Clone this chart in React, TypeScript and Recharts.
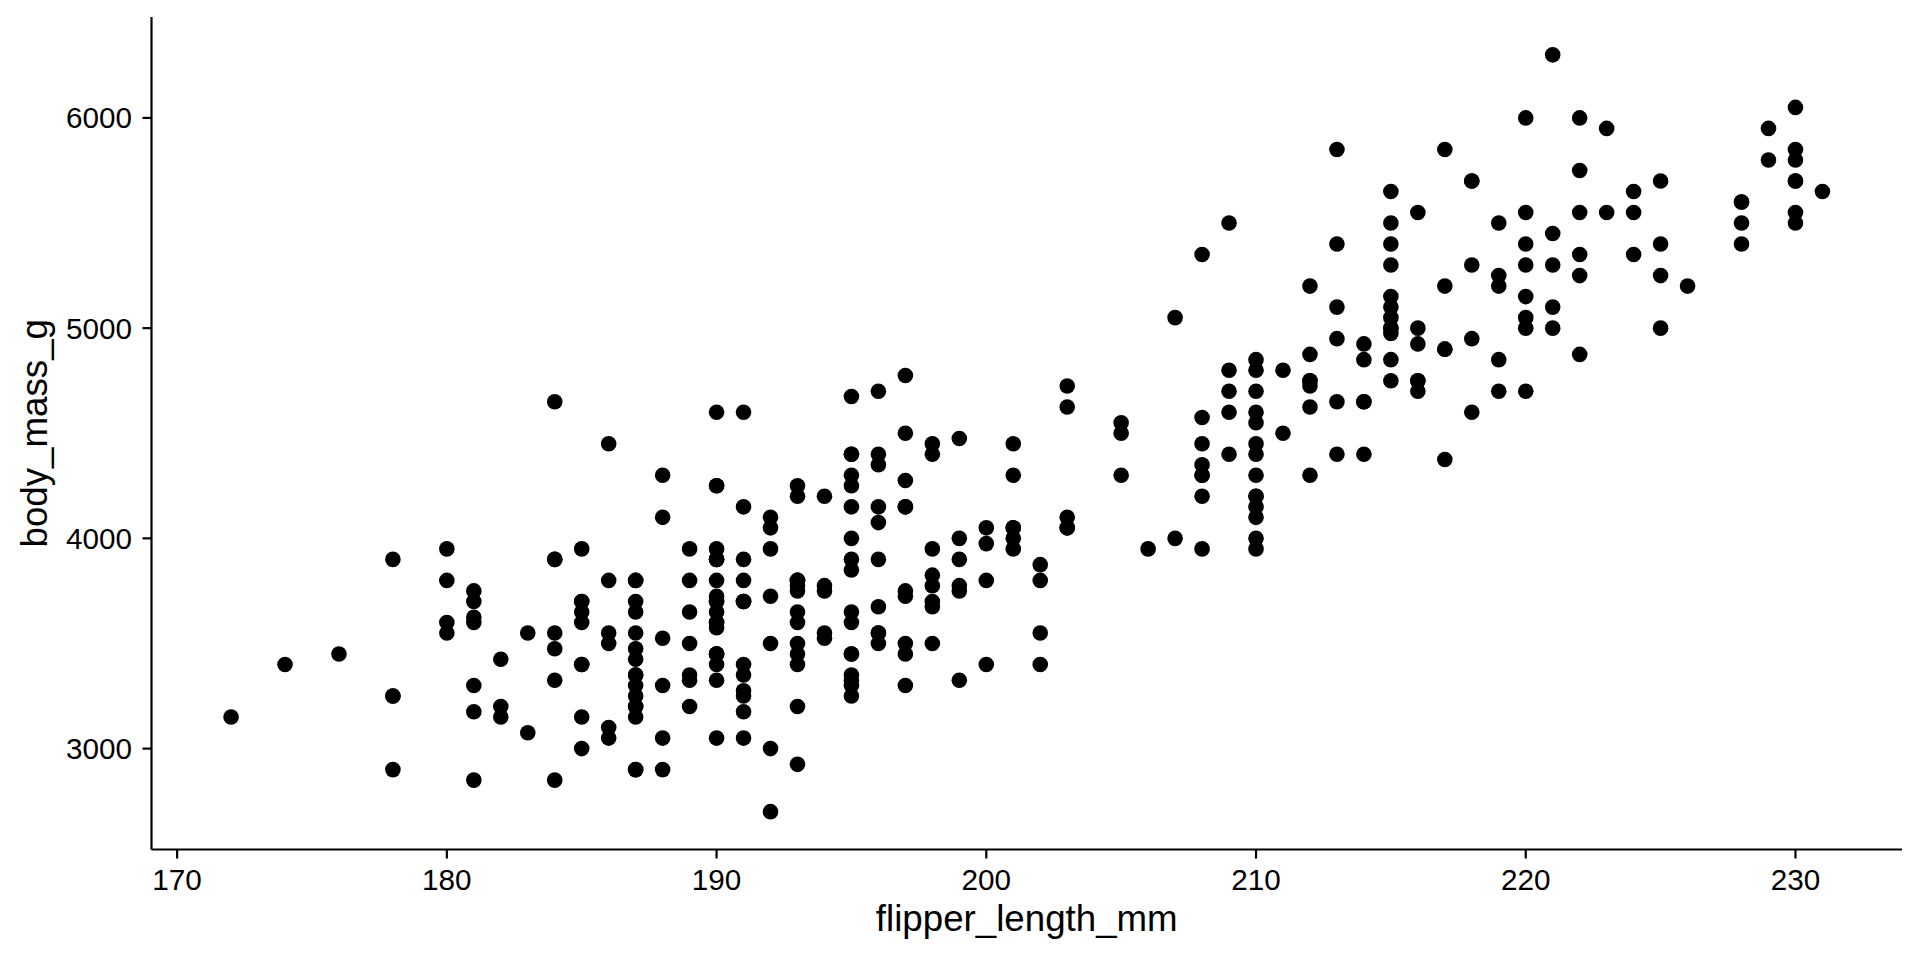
import { ScatterChart, Scatter, XAxis, YAxis, Label } from "recharts";

// palmer penguins, rows with missing sex dropped
const adelieFlipper = [
  181, 186, 195, 193, 190, 181, 195, 182, 191, 198,
  185, 195, 197, 184, 194, 174, 180, 189, 185, 180,
  187, 183, 187, 172, 180, 178, 178, 188, 184, 195,
  196, 190, 180, 181, 184, 182, 195, 186, 196, 185,
  190, 182, 190, 191, 186, 188, 190, 200, 187, 191,
  186, 193, 181, 194, 185, 195, 185, 192, 184, 192,
  195, 188, 190, 198, 190, 190, 196, 197, 190, 195,
  191, 184, 187, 195, 189, 196, 187, 193, 191, 194,
  190, 189, 189, 190, 202, 205, 185, 186, 187, 208,
  190, 196, 178, 192, 192, 203, 183, 190, 193, 184,
  199, 190, 181, 197, 198, 191, 193, 197, 191, 196,
  188, 199, 189, 189, 187, 198, 176, 202, 186, 199,
  191, 195, 191, 210, 190, 197, 193, 199, 187, 190,
  191, 200, 185, 193, 193, 187, 188, 190, 192, 185,
  190, 184, 195, 193, 187, 201,
];
const adelieMass = [
  3750, 3800, 3250, 3450, 3650, 3625, 4675, 3200, 3800, 4400,
  3700, 3450, 4500, 3325, 4200, 3400, 3600, 3800, 3950, 3800,
  3800, 3550, 3200, 3150, 3950, 3250, 3900, 3300, 3900, 3325,
  4150, 3950, 3550, 3300, 4650, 3150, 3900, 3100, 4400, 3000,
  4600, 3425, 3450, 4150, 3500, 4300, 3450, 4050, 2900, 3700,
  3550, 3800, 2850, 3750, 3150, 4400, 3600, 4050, 2850, 3950,
  3350, 4100, 3050, 4450, 3600, 3900, 3550, 4150, 3700, 4250,
  3700, 3900, 3550, 4000, 3200, 4700, 3800, 4200, 3350, 3550,
  3800, 3500, 3950, 3600, 3550, 4300, 3400, 4450, 3300, 4300,
  3700, 4350, 2900, 4100, 3725, 4725, 3075, 4250, 2925, 3550,
  3750, 3900, 3175, 4775, 3825, 4600, 3200, 4275, 3900, 4075,
  2900, 3775, 3350, 3325, 3150, 3500, 3450, 3875, 3050, 4000,
  3275, 4300, 3050, 4000, 3325, 3500, 3500, 4475, 3425, 3900,
  3175, 3975, 3400, 4250, 3400, 3475, 3050, 3725, 3000, 3650,
  4250, 3475, 3450, 3750, 3700, 4000,
];

const gentooFlipper = [
  211, 230, 210, 218, 215, 210, 211, 219, 209, 215,
  214, 216, 214, 213, 210, 217, 210, 221, 209, 222,
  218, 215, 213, 215, 215, 215, 215, 210, 220, 222,
  209, 207, 230, 220, 220, 213, 219, 208, 208, 208,
  225, 210, 216, 222, 217, 210, 225, 213, 215, 210,
  220, 210, 225, 217, 220, 208, 220, 208, 224, 208,
  221, 214, 231, 219, 230, 229, 220, 223, 216, 221,
  221, 217, 216, 230, 209, 220, 215, 223, 212, 221,
  212, 224, 212, 228, 218, 218, 212, 230, 218, 228,
  212, 224, 214, 226, 216, 222, 203, 225, 219, 228,
  215, 228, 215, 210, 219, 208, 209, 216, 229, 213,
  230, 217, 230, 222, 214, 215, 222, 212, 213,
];
const gentooMass = [
  4500, 5700, 4450, 5700, 5400, 4550, 4800, 5200, 4400, 5150,
  4650, 5550, 4650, 5850, 4200, 5850, 4150, 6300, 4800, 5350,
  5700, 5000, 4400, 5050, 5000, 5100, 5650, 4600, 5550, 5250,
  4700, 5050, 6050, 5150, 5400, 4950, 5250, 4350, 5350, 3950,
  5700, 4300, 4750, 5550, 4900, 4200, 5400, 5100, 5300, 4850,
  5300, 4400, 5000, 4900, 5050, 4300, 5000, 4450, 5550, 4200,
  5300, 4400, 5650, 4700, 5700, 5800, 4700, 5550, 4750, 5000,
  5100, 5200, 4700, 5800, 4600, 6000, 4750, 5950, 4625, 5450,
  4725, 5350, 4750, 5600, 4600, 5300, 4875, 5550, 4950, 5400,
  4750, 5650, 4850, 5200, 4925, 4875, 4625, 5250, 4850, 5600,
  4975, 5500, 5500, 4700, 5500, 4575, 5500, 5000, 5950, 4650,
  5500, 4375, 5850, 6000, 4925, 4850, 5750, 5200, 5400,
];

const chinstrapFlipper = [
  192, 196, 193, 188, 197, 198, 178, 197, 195, 198,
  193, 194, 185, 201, 190, 201, 197, 181, 190, 195,
  181, 191, 187, 193, 195, 197, 200, 200, 191, 205,
  187, 201, 187, 203, 195, 199, 195, 210, 192, 205,
  210, 187, 196, 196, 196, 201, 190, 212, 187, 198,
  199, 201, 193, 203, 187, 197, 191, 203, 202, 194,
  206, 189, 195, 207, 202, 193, 210, 198,
];
const chinstrapMass = [
  3500, 3900, 3650, 3525, 3725, 3950, 3250, 3750, 4150, 3700,
  3800, 3775, 3700, 4050, 3575, 4050, 3300, 3700, 3450, 4400,
  3600, 3400, 2900, 3800, 3300, 4150, 3400, 3800, 3700, 4550,
  3200, 4300, 3350, 4100, 3600, 3900, 3850, 4800, 2700, 4500,
  3950, 3650, 3550, 3500, 3675, 4450, 3400, 4300, 3250, 3675,
  3325, 3950, 3600, 4050, 3350, 3450, 3250, 4050, 3800, 3525,
  3950, 3650, 3650, 4000, 3400, 3775, 4100, 3775,
];

const xTicks = [170, 180, 190, 200, 210, 220, 230];
const yTicks = [3000, 4000, 5000, 6000];

const toPoints = (xs: number[], ys: number[]) => xs.map((x, i) => ({ x, y: ys[i] }));
const groups = [
  toPoints(adelieFlipper, adelieMass),
  toPoints(gentooFlipper, gentooMass),
  toPoints(chinstrapFlipper, chinstrapMass),
];

const FONT = '"Liberation Sans", Arial, Helvetica, sans-serif';
const axisLine = { stroke: "#000", strokeWidth: 2.2 };

const Dot = (p: any) => <circle cx={p.cx} cy={p.cy} r={7.8} fill="#000" />;

export default function App() {
  return (
    <div style={{ position: "absolute", left: 0, top: 0 }}>
      <ScatterChart width={1920} height={960} margin={{ top: 17, right: 18, bottom: 0, left: 0 }}>
        <XAxis
          type="number"
          dataKey="x"
          domain={[169.05, 233.95]}
          ticks={xTicks}
          allowDataOverflow
          height={110.5}
          axisLine={axisLine}
          tickLine={axisLine}
          tickSize={9}
          tickMargin={10.5}
          tick={{ fontSize: 29.7, fill: "#000", fontFamily: FONT }}
        >
          <Label
            content={(props: any) => {
              const vb = props.viewBox;
              return (
                <text
                  x={vb.x + vb.width / 2}
                  y={931}
                  textAnchor="middle"
                  fontSize={36.7}
                  fontFamily={FONT}
                  fill="#000"
                >
                  flipper_length_mm
                </text>
              );
            }}
          />
        </XAxis>
        <YAxis
          type="number"
          dataKey="y"
          domain={[2520, 6480]}
          ticks={yTicks}
          allowDataOverflow
          width={151.5}
          axisLine={axisLine}
          tickLine={axisLine}
          tickSize={9}
          tickMargin={10.5}
          tick={{ fontSize: 29.7, fill: "#000", fontFamily: FONT }}
        >
          <Label
            content={(props: any) => {
              const vb = props.viewBox;
              const cy = vb.y + vb.height / 2;
              return (
                <text
                  x={47}
                  y={cy}
                  transform={`rotate(-90 47 ${cy})`}
                  textAnchor="middle"
                  fontSize={36.7}
                  fontFamily={FONT}
                  fill="#000"
                >
                  body_mass_g
                </text>
              );
            }}
          />
        </YAxis>
        {groups.map((g, i) => (
          <Scatter key={i} data={g} shape={Dot} isAnimationActive={false} />
        ))}
      </ScatterChart>
    </div>
  );
}
